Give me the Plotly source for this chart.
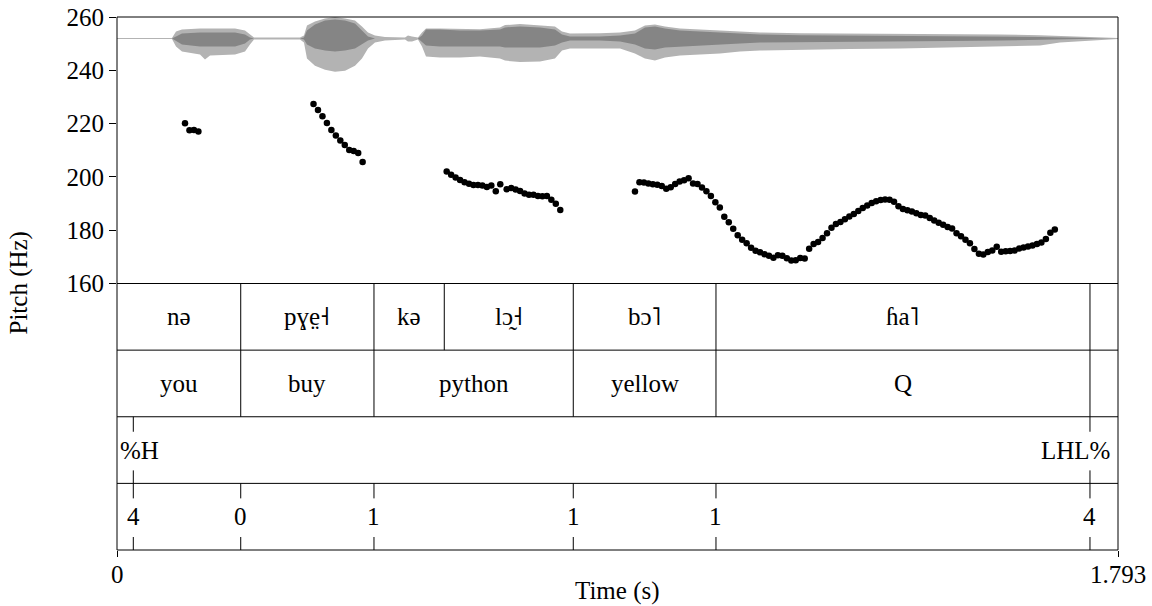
import plotly.graph_objects as go

FONT = "Liberation Serif"
FS = 25
T_END = 1.793

# ---- pitch track (Hz), one frame every 8 ms inside each voiced stretch ----
PITCH_STEP = 0.008
pitch_ne_start = 0.1218
pitch_ne = [220.1, 217.5, 217.6, 217.0]
pitch_pye_start = 0.3520
pitch_pye = [227.4, 225.1, 222.8, 220.2, 217.6, 215.5, 213.7, 212.0, 210.1, 209.7,
             209.0, 205.6]
pitch_lo1_start = 0.5905
pitch_lo1 = [202.0, 200.8, 199.8, 198.8, 198.0, 197.4, 197.0, 197.0, 196.8, 196.2,
             196.8, 194.6, 197.2]
pitch_lo2_start = 0.6980
pitch_lo2 = [195.4, 195.8, 195.3, 194.7, 193.8, 193.3, 193.3, 192.8, 192.7, 192.8,
             191.4, 189.9, 187.6]
pitch_boha_start = 0.9278
pitch_boha = [194.5, 198.0, 197.9, 197.5, 197.2, 197.1, 196.6, 195.6, 196.1, 197.3,
              198.3, 198.7, 199.5, 197.5, 197.3, 196.0, 194.6, 192.8, 190.5, 188.5,
              185.0, 183.0, 180.5, 178.1, 176.4, 175.1, 173.4, 172.3, 171.7, 171.0,
              170.4, 169.7, 170.6, 170.4, 169.5, 168.6, 168.7, 169.6, 169.4, 173.0,
              174.8, 175.6, 177.1, 178.9, 180.9, 182.3, 183.1, 184.1, 185.1, 186.1,
              187.2, 188.3, 189.3, 190.2, 190.9, 191.3, 191.5, 191.4, 190.7, 189.0,
              188.0, 187.5, 187.0, 186.4, 185.7, 185.5, 184.6, 183.6, 182.8, 182.0,
              181.2, 180.6, 178.9, 177.7, 176.4, 175.1, 172.9, 171.2, 170.9, 171.8,
              172.4, 173.8, 171.9, 172.1, 172.2, 172.4, 173.1, 173.5, 173.9, 174.3,
              174.8, 175.4, 176.7, 179.0, 180.3]

# ---- waveform envelope (relative amplitude) ----
wave_t = [0.000, 0.0985, 0.1057, 0.1164, 0.1487, 0.1576, 0.1666, 0.1845, 0.2114, 0.2293,
          0.2382, 0.2454, 0.3278, 0.3349, 0.3403, 0.3546, 0.3726, 0.3905, 0.4084, 0.4263,
          0.4388, 0.4496, 0.4621, 0.4800, 0.5159, 0.5212, 0.5284, 0.5391, 0.5463, 0.5535,
          0.5785, 0.6144, 0.6502, 0.6860, 0.6950, 0.7218, 0.7577, 0.7845, 0.7971, 0.8114,
          0.8651, 0.9010, 0.9278, 0.9457, 0.9636, 0.9815, 1.0084, 1.0442, 1.0801, 1.1159,
          1.1517, 1.2234, 1.3129, 1.4025, 1.4920, 1.5816, 1.6532, 1.6890, 1.7249, 1.7607,
          1.7929]
wave_up = [0.015, 0.015, 0.21, 0.27, 0.30, 0.30, 0.31, 0.30, 0.30, 0.24,
           0.12, 0.03, 0.03, 0.09, 0.39, 0.51, 0.60, 0.64, 0.60, 0.54,
           0.36, 0.18, 0.09, 0.045, 0.03, 0.09, 0.06, 0.03, 0.18, 0.30,
           0.30, 0.28, 0.28, 0.33, 0.40, 0.43, 0.40, 0.36, 0.21, 0.15,
           0.16, 0.18, 0.24, 0.39, 0.42, 0.36, 0.30, 0.27, 0.24, 0.21,
           0.18, 0.16, 0.15, 0.15, 0.13, 0.12, 0.10, 0.075, 0.045, 0.03,
           0.015]
wave_lo = [0.015, 0.015, 0.24, 0.39, 0.48, 0.63, 0.51, 0.51, 0.48, 0.39,
           0.18, 0.03, 0.03, 0.12, 0.60, 0.81, 0.93, 0.99, 0.96, 0.81,
           0.60, 0.30, 0.12, 0.06, 0.03, 0.09, 0.09, 0.03, 0.24, 0.54,
           0.57, 0.57, 0.54, 0.60, 0.66, 0.70, 0.69, 0.60, 0.36, 0.30,
           0.30, 0.30, 0.45, 0.60, 0.66, 0.57, 0.51, 0.48, 0.45, 0.39,
           0.36, 0.33, 0.31, 0.30, 0.27, 0.24, 0.21, 0.12, 0.075, 0.045,
           0.015]
core_up = [0.0, 0.0, 0.06, 0.15, 0.18, 0.18, 0.18, 0.18, 0.18, 0.12,
           0.03, 0.0, 0.0, 0.03, 0.24, 0.42, 0.54, 0.57, 0.54, 0.45,
           0.24, 0.06, 0.0, 0.0, 0.0, 0.0, 0.0, 0.0, 0.09, 0.27,
           0.27, 0.24, 0.24, 0.27, 0.33, 0.36, 0.33, 0.27, 0.12, 0.06,
           0.06, 0.09, 0.15, 0.33, 0.36, 0.30, 0.24, 0.21, 0.18, 0.15,
           0.12, 0.10, 0.09, 0.09, 0.075, 0.06, 0.045, 0.03, 0.015, 0.0,
           0.0]
core_lo = [0.0, 0.0, 0.06, 0.18, 0.24, 0.24, 0.24, 0.24, 0.24, 0.15,
           0.03, 0.0, 0.0, 0.03, 0.18, 0.30, 0.36, 0.39, 0.36, 0.30,
           0.18, 0.06, 0.0, 0.0, 0.0, 0.0, 0.0, 0.0, 0.09, 0.21,
           0.24, 0.24, 0.24, 0.24, 0.27, 0.27, 0.27, 0.21, 0.12, 0.06,
           0.06, 0.09, 0.18, 0.30, 0.33, 0.27, 0.24, 0.21, 0.18, 0.15,
           0.12, 0.10, 0.09, 0.09, 0.075, 0.06, 0.045, 0.03, 0.015, 0.0,
           0.0]

# ---- TextGrid ----
syl_bounds = [0.0, 0.2216, 0.4603, 0.5862, 0.8173, 1.0729, 1.7428, T_END]
syl_labels = ["nə", "pɣe̤˧", "kə", "lɔ̰˧", "bɔ˥", "ɦa˥", ""]
word_bounds = [0.0, 0.2216, 0.4603, 0.8173, 1.0729, 1.7428, T_END]
word_labels = ["you", "buy", "python", "yellow", "Q", ""]
tone_times = [0.0292, 1.7428]
tone_labels = ["%H", "LHL%"]
break_times = [0.0292, 0.2216, 0.4603, 0.8173, 1.0729, 1.7428]
break_labels = ["4", "0", "1", "1", "1", "4"]

time_ticks = [0, T_END]
time_ticktext = ["0", "1.793"]

PLOT_H = 533.0  # pixel height of the framed area
TIER_H = 0.125
tier_top = [0.5 - TIER_H * k for k in range(4)]

fig = go.Figure()


def band(t, up, lo):
    xs = list(t) + list(t[::-1])
    ys = list(up) + [-v for v in lo[::-1]]
    return xs, ys


for up, lo, col in [(wave_up, wave_lo, "#b3b3b3"), (core_up, core_lo, "#858585")]:
    xs, ys = band(wave_t, up, lo)
    fig.add_trace(go.Scatter(x=xs, y=ys, yaxis="y2", fill="toself", fillcolor=col,
                             mode="lines", line=dict(width=0), hoverinfo="skip"))

for start, vals in [(pitch_ne_start, pitch_ne), (pitch_pye_start, pitch_pye),
                    (pitch_lo1_start, pitch_lo1), (pitch_lo2_start, pitch_lo2),
                    (pitch_boha_start, pitch_boha)]:
    fig.add_trace(go.Scatter(x=[start + i * PITCH_STEP for i in range(len(vals))], y=vals,
                             mode="markers", marker=dict(size=6.5, color="black"),
                             hoverinfo="skip"))

shapes = []
line = dict(color="black", width=1)
# waveform zero line
shapes.append(dict(type="line", xref="x", yref="y2", x0=0, x1=T_END, y0=0, y1=0,
                   line=dict(color="#9a9a9a", width=1), layer="below"))
# outer frame and tier separators
shapes.append(dict(type="rect", xref="paper", yref="paper", x0=0, x1=1, y0=0, y1=1, line=line))
for y in tier_top:
    shapes.append(dict(type="line", xref="paper", yref="paper", x0=0, x1=1, y0=y, y1=y, line=line))

annotations = []
txt = dict(family=FONT, size=FS, color="black")


def label(x, y, text, xref="x", **kw):
    a = dict(x=x, y=y, xref=xref, yref="paper", text=text, showarrow=False, font=txt,
             xanchor="center", yanchor="middle")
    a.update(kw)
    annotations.append(a)


def interval_tier(k, bounds, labels):
    top = tier_top[k]
    bot = top - TIER_H
    for b in bounds[1:-1]:
        shapes.append(dict(type="line", xref="x", yref="paper", x0=b, x1=b, y0=bot, y1=top, line=line))
    for a, b, lab in zip(bounds[:-1], bounds[1:], labels):
        if lab:
            label((a + b) / 2, (top + bot) / 2, lab)


def point_tier(k, times, labels, edge_fit=False):
    top = tier_top[k]
    bot = top - TIER_H
    for t in times:
        shapes.append(dict(type="line", xref="x", yref="paper", x0=t, x1=t,
                           y0=top - 15 / PLOT_H, y1=top, line=line))
        shapes.append(dict(type="line", xref="x", yref="paper", x0=t, x1=t,
                           y0=bot, y1=bot + 13 / PLOT_H, line=line))
    for i, (t, lab) in enumerate(zip(times, labels)):
        mid = (top + bot) / 2
        if edge_fit and i == 0:
            label(0, mid, lab, xanchor="left", xshift=1)
        elif edge_fit and i == len(times) - 1:
            label(T_END, mid, lab, xanchor="right", xshift=-6)
        else:
            label(t, mid, lab)


interval_tier(0, syl_bounds, syl_labels)
interval_tier(1, word_bounds, word_labels)
point_tier(2, tone_times, tone_labels, edge_fit=True)
point_tier(3, break_times, break_labels)

# time axis end labels, just below the tick marks
for t, s in zip(time_ticks, time_ticktext):
    label(t, -24 / PLOT_H, s)

label(-99 / 1001, 0.5, "Pitch (Hz)", xref="paper", textangle=-90)
label(0.5, -41 / PLOT_H, "Time (s)", xref="paper")

fig.update_layout(
    width=1152, height=606,
    margin=dict(l=117, r=34, t=17, b=56, autoexpand=False),
    paper_bgcolor="white", plot_bgcolor="white",
    showlegend=False,
    shapes=shapes, annotations=annotations,
    xaxis=dict(range=[0, T_END], domain=[0, 1], anchor="free", position=0,
               showgrid=False, zeroline=False, showline=False, automargin=False,
               tickvals=time_ticks, showticklabels=False,
               ticks="outside", ticklen=6, tickcolor="black"),
    yaxis=dict(range=[160, 260], domain=[0.5, 1], showgrid=False, zeroline=False,
               showline=False, automargin=False, tickvals=[160, 180, 200, 220, 240, 260],
               ticks="outside", ticklen=7, tickcolor="black", tickfont=txt),
    yaxis2=dict(range=[-7.313, 0.642], overlaying="y", visible=False),
)

fig.write_html("out.html")
